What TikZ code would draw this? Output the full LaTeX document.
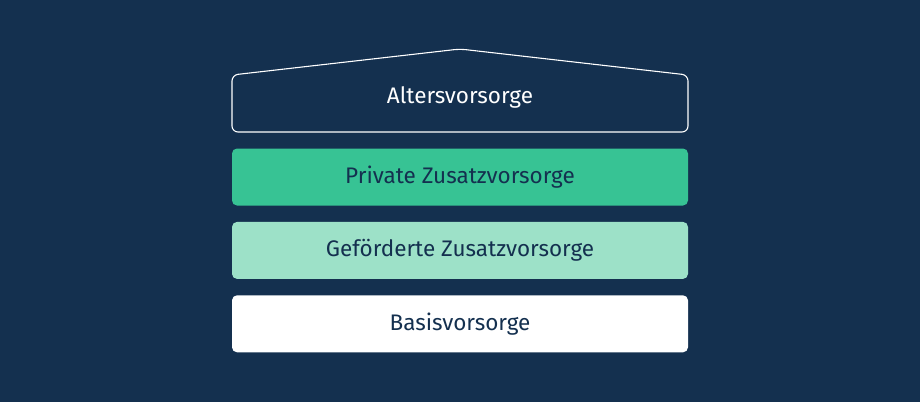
\documentclass[tikz,border=0pt]{standalone}
\usepackage{fontspec}
\setmainfont{Fira Sans}
\usetikzlibrary{positioning}
\definecolor{navy}{HTML}{14304F}
\definecolor{mint}{HTML}{37C394}
\definecolor{palemint}{HTML}{9DE1C8}
\tikzset{
  layer/.style={minimum width=456pt,minimum height=57pt,rounded corners=5pt,
    inner sep=0pt,text=navy,font=\fontsize{22.5}{26}\selectfont},
  roof/.style={draw=white,line width=1.1pt,rounded corners=6pt},
}
\begin{document}
\begin{tikzpicture}[x=1pt,y=-1pt]
      \fill[navy] (0,0) rectangle (920,402);
      \useasboundingbox (0,0) rectangle (920,402);

      \coordinate (BL) at (232,132);
      \coordinate (TL) at (232,75);
      \coordinate (A) at (460,49);
      \coordinate (TR) at (688,75);
      \coordinate (BR) at (688,132);

      \draw[roof] (BL) -- (TL) -- (A) -- (TR) -- (BR) -- cycle;
      \node[text=white,font=\fontsize{22.5}{26}\selectfont] (alter) at (460,97) {Altersvorsorge};

      \node[layer,fill=mint] (privat) at (460,177) {Private Zusatzvorsorge};
      \node[layer,fill=palemint,below=16pt of privat] (gefoerdert) {Geförderte Zusatzvorsorge};
      \node[layer,fill=white,below=16pt of gefoerdert] (basis) {Basisvorsorge};
    \end{tikzpicture}
\end{document}
